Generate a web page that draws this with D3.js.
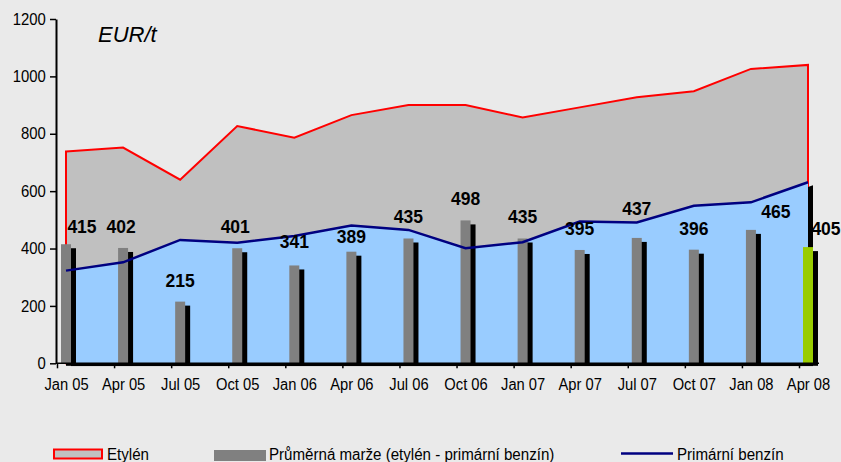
<!DOCTYPE html>
<html>
<head>
<meta charset="utf-8">
<script src="https://d3js.org/d3.v7.min.js"></script>
<style>
  body { margin: 0; background: #eaeaea; }
  svg { display: block; font-family: Arial, "Liberation Sans", sans-serif; }
</style>
</head>
<body>
<svg width="841" height="462"></svg>
<script>
// data (EUR/t, quarterly)
const kategorie = ['Jan 05', 'Apr 05', 'Jul 05', 'Oct 05', 'Jan 06', 'Apr 06', 'Jul 06',
                   'Oct 06', 'Jan 07', 'Apr 07', 'Jul 07', 'Oct 07', 'Jan 08', 'Apr 08'];
const etylen = [738, 752, 640, 827, 786, 865, 900, 900, 857, 892, 927, 948, 1026, 1040];
const benzin = [323, 352, 430, 420, 444, 480, 465, 401, 422, 494, 491, 549, 561, 631];
const marze  = [415, 402, 215, 401, 341, 389, 435, 498, 435, 395, 437, 396, 465, 405];
const osaY = [0, 200, 400, 600, 800, 1000, 1200];
const legenda = ['Etylén', 'Průměrná marže (etylén - primární benzín)', 'Primární benzín'];

const svg = d3.select('svg');

//Escalas
const x = d3.scalePoint().domain(kategorie).range([66, 808]);
const y = d3.scaleLinear().domain([0, 1200]).range([363.3, 19]);
const y0 = y(0);

const data = kategorie.map((k, i) => ({ k: k, et: etylen[i], bz: benzin[i], m: marze[i], i: i }));

// clip for the plot area (shadow of blue area must not go below axis)
svg.append('clipPath').attr('id', 'plot')
  .append('rect').attr('x', 56).attr('y', 0).attr('width', 800).attr('height', y0);

// Etylén area: gray fill, red border
const areaEt = d3.area().x(d => x(d.k)).y0(y0).y1(d => y(d.et));
svg.append('path')
  .datum(data)
  .attr('d', areaEt)
  .attr('fill', '#c0c0c0')
  .attr('stroke', '#ff0000')
  .attr('stroke-width', 2);

// blue area with its shadow
const areaBz = d3.area().x(d => x(d.k)).y0(y0).y1(d => y(d.bz));
svg.append('path')
  .datum(data)
  .attr('d', areaBz)
  .attr('fill', '#000')
  .attr('transform', 'translate(5,3)')
  .attr('clip-path', 'url(#plot)');
svg.append('path')
  .datum(data)
  .attr('d', areaBz)
  .attr('fill', '#99ccff');

// bars: shadow + bar
const barW = 10;
const bars = svg.append('g');
bars.selectAll('.stin')
  .data(data)
  .enter().append('rect')
  .attr('class', 'stin')
  .attr('x', d => x(d.k) - barW / 2 + 5)
  .attr('y', d => y(d.m) + 4)
  .attr('width', barW)
  .attr('height', d => y0 + 2.5 - (y(d.m) + 4))
  .attr('fill', '#000');
bars.selectAll('.bar')
  .data(data)
  .enter().append('rect')
  .attr('class', 'bar')
  .attr('x', d => x(d.k) - barW / 2)
  .attr('y', d => y(d.m))
  .attr('width', barW)
  .attr('height', d => y0 - y(d.m))
  .attr('fill', d => d.i === data.length - 1 ? '#99cc00' : '#808080');

// Primární benzín line
svg.append('path')
  .datum(data)
  .attr('d', d3.line().x(d => x(d.k)).y(d => y(d.bz)))
  .attr('fill', 'none')
  .attr('stroke', '#000080')
  .attr('stroke-width', 2.5);

// axes
const gx = svg.append('g')
  .attr('transform', 'translate(0,' + y0 + ')')
  .call(d3.axisBottom(x).tickSize(5).tickSizeOuter(0).tickPadding(10));
gx.select('.domain').remove();
gx.selectAll('.tick line').attr('transform', 'translate(-9,0)').attr('stroke', '#000').attr('stroke-width', 1.5);
gx.selectAll('.tick text')
  .attr('font-size', 16).attr('font-family', 'Arial, "Liberation Sans", sans-serif')
  .attr('fill', '#000').attr('transform', 'scale(0.92,1)');
svg.append('line')
  .attr('x1', 56).attr('x2', 819)
  .attr('y1', y0).attr('y2', y0)
  .attr('stroke', '#000').attr('stroke-width', 1.5);

const gy = svg.append('g')
  .attr('transform', 'translate(56,0)')
  .call(d3.axisLeft(y).tickValues(osaY).tickFormat(d3.format('d'))
    .tickSize(6).tickSizeOuter(0).tickPadding(5));
gy.select('.domain').attr('stroke-width', 2);
gy.selectAll('.tick line').attr('stroke-width', 1.5);
gy.selectAll('.tick text')
  .attr('font-size', 16).attr('font-family', 'Arial, "Liberation Sans", sans-serif')
  .attr('fill', '#000').attr('transform', 'scale(0.93,1)');

// value labels (some were dragged by hand in the original)
const posun = [[16, 4], [-2, 0], [0, 0], [-2, 0], [0, -2], [0, 6], [0, 0],
               [0, 0], [0, 0], [0, 0], [0, -8], [0, 0], [25, 3.5], [18, 2.5]];
svg.append('g').selectAll('text')
  .data(data)
  .enter().append('text')
  .attr('x', d => x(d.k) + posun[d.i][0])
  .attr('y', d => y(d.m) - 15 + posun[d.i][1])
  .attr('text-anchor', 'middle')
  .attr('font-size', 17.5)
  .attr('font-weight', 'bold')
  .attr('fill', '#000')
  .text(d => d.m);

// unit
svg.append('text')
  .attr('x', 98).attr('y', 41.5)
  .attr('font-size', 22).attr('font-style', 'italic')
  .attr('fill', '#000')
  .text('EUR/t');

// legend
const lg = svg.append('g');
lg.append('rect').attr('x', 54).attr('y', 449.5).attr('width', 48).attr('height', 9)
  .attr('fill', '#c0c0c0').attr('stroke', '#ff0000').attr('stroke-width', 2);
lg.append('rect').attr('x', 214).attr('y', 450).attr('width', 52).attr('height', 11)
  .attr('fill', '#808080');
lg.append('line').attr('x1', 621).attr('x2', 673).attr('y1', 453.5).attr('y2', 453.5)
  .attr('stroke', '#000080').attr('stroke-width', 2.5);
const lx = [107, 269, 677];
lg.selectAll('text')
  .data(legenda)
  .enter().append('text')
  .attr('transform', (d, i) => 'translate(' + lx[i] + ',460) scale(0.945,1)')
  .attr('font-size', 16)
  .attr('fill', '#000')
  .text(d => d);
</script>
</body>
</html>
